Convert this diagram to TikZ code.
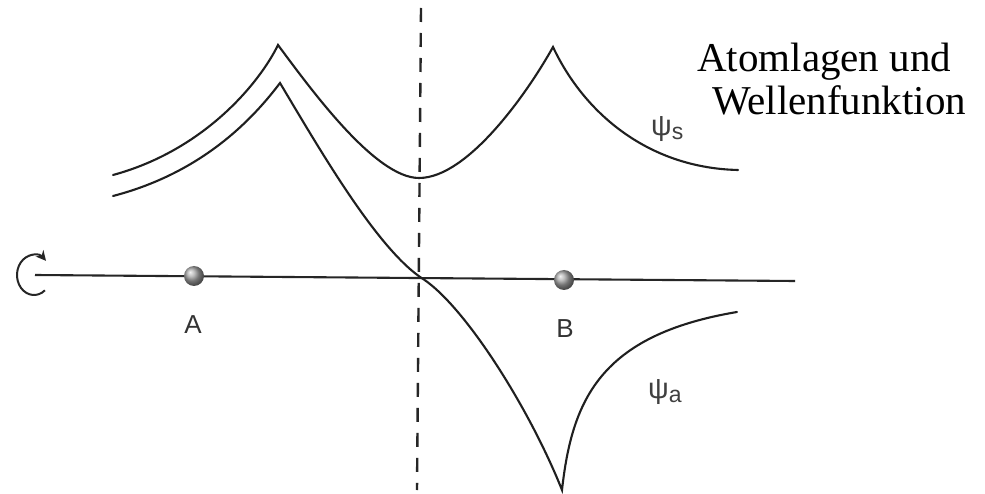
\documentclass[tikz,border=0pt]{standalone}
\usepackage{fontspec}
\setmainfont{Liberation Serif}
\newfontfamily\lsans{Liberation Sans}
\usetikzlibrary{arrows.meta}
\tikzset{
  curve/.style={line width=2.1pt, draw=black!88, line cap=round, line join=miter},
  axisline/.style={line width=2.1pt, draw=black!85},
  dashline/.style={line width=2.4pt, draw=black!85, dash pattern=on 14pt off 11pt},
  atom/.style={circle, minimum size=20pt, inner sep=0pt, shading=ball, ball color=gray!70},
  sanslabel/.style={font=\lsans\fontsize{26}{30}\selectfont, text=black!80, inner sep=0pt},
  psilabel/.style={font=\lsans\fontsize{23}{26}\selectfont, text=black!75, inner sep=0pt, anchor=base west},
  titletext/.style={font=\fontsize{41}{46}\selectfont, inner sep=0pt, anchor=base west}
}
\newcommand{\bigpsi}{\raisebox{4pt}{\fontsize{29}{30}\selectfont ψ}}
\begin{document}
\begin{tikzpicture}[x=1pt,y=-1pt]
\useasboundingbox[fill=white] (0,0) rectangle (985,494);

% dashed symmetry line
\coordinate (dtop) at (421,8);
\coordinate (dbot) at (417,490);
\draw[dashline] (dtop) -- (dbot);

% axis
\coordinate (axl) at (35,275);
\coordinate (axr) at (795,281);
\draw[axisline] (axl) -- (axr);

% rotation arrow
\coordinate (rotc) at (34,275);
\draw[line width=2pt, draw=black!85, -{Stealth[length=10pt,width=10pt]}]
  ([shift={(50:17 and 20)}]rotc) arc[start angle=50, end angle=315, x radius=17, y radius=20];

% psi_s
\draw[curve] (113,175) .. controls (205,150) and (260,82) .. (278,45)
  .. controls (310,88) and (375,178) .. (419,178)
  .. controls (468,178) and (528,92) .. (553,47)
  .. controls (585,115) and (650,168) .. (738,170);

% psi_a
\draw[curve] (113,196) .. controls (205,172) and (255,116) .. (280,83)
  .. controls (320,150) and (375,245) .. (420,277)
  .. controls (462,302) and (528,405) .. (562,490)
  .. controls (572,400) and (600,335) .. (737,312);

% atoms
\node[atom] (A) at (194,276) {};
\node[atom] (B) at (564,280) {};
\node[sanslabel, anchor=base] (labA) at (193,334) {A};
\node[sanslabel, anchor=base] (labB) at (565,337) {B};

% psi labels
\node[psilabel] (psis) at (651,140) {\bigpsi s};
\node[psilabel] (psia) at (648,402) {\bigpsi a};

% title
\node[titletext] (t1) at (697,72) {Atomlagen und};
\node[titletext] (t2) at (712,115) {Wellenfunktion};
\end{tikzpicture}
\end{document}
